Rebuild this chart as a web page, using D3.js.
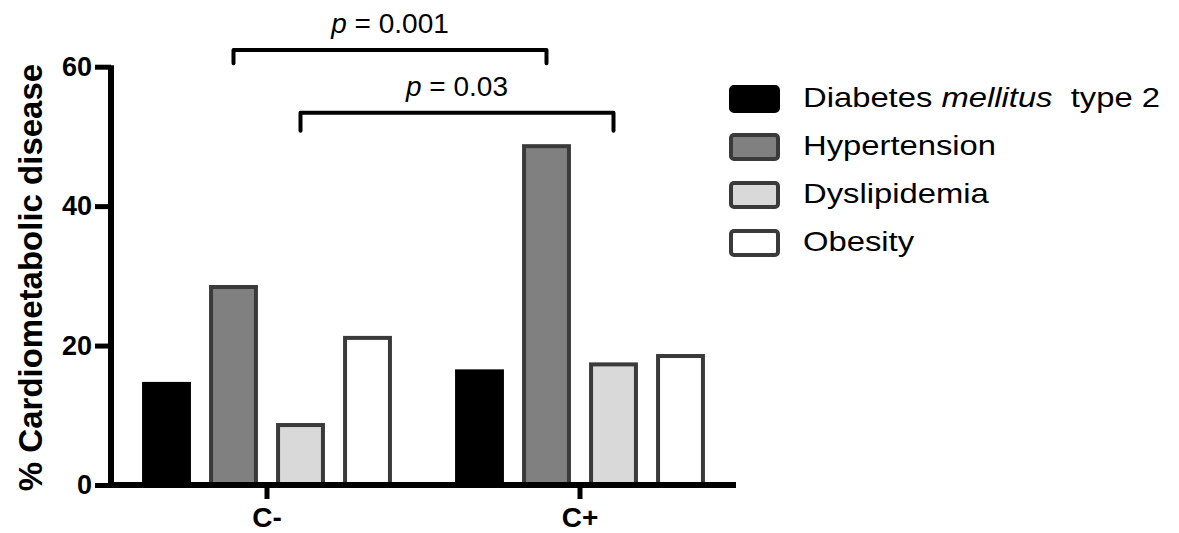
<!DOCTYPE html>
<meta charset="utf-8">
<script src="https://d3js.org/d3.v7.min.js"></script>
<style>
  body { margin: 0; background: #fff; }
  text { font-family: "Liberation Sans", Arial, Helvetica, sans-serif; }
</style>
<div id="my_dataviz"></div>
<script>

// data
var groups = ["C-", "C+"];
var series = ["Diabetes mellitus type 2", "Hypertension", "Dyslipidemia", "Obesity"];
var valuesCminus = [14.5, 28.4, 8.6, 21.1];
var valuesCplus = [16.3, 48.6, 17.3, 18.5];
var yTicks = [0, 20, 40, 60];
var fills = ["#000000", "#808080", "#d9d9d9", "#ffffff"];

// significance brackets: series compared across groups, height in % units
var brackets = [
  {series: "Hypertension", top: 62.4, bottom: 60.5, label: "0.001"},
  {series: "Dyslipidemia", top: 53.4, bottom: 50.8, label: "0.03"}
];

var data = [];
groups.forEach(function(g, gi) {
  var vals = gi == 0 ? valuesCminus : valuesCplus;
  series.forEach(function(s, si) {
    data.push({group: g, series: s, value: vals[si], fill: fills[si]});
  });
});

var width = 1179, height = 533;

var svg = d3.select("#my_dataviz")
  .append("svg")
    .attr("width", width)
    .attr("height", height);

var x = d3.scaleBand()
  .domain(groups)
  .range([110.5, 736.5]);

var xInner = d3.scaleBand()
  .domain(series)
  .range([-134, 134])
  .paddingInner(0.33)
  .paddingOuter(0.165);

var y = d3.scaleLinear()
  .domain([0, 60])
  .range([485, 66.7]);

function barCenter(g, s) {
  return x(g) + x.bandwidth() / 2 + xInner(s) + xInner.bandwidth() / 2;
}

// bars
svg.append("g")
  .selectAll("rect")
  .data(data)
  .enter()
  .append("rect")
    .attr("x", function(d) { return x(d.group) + x.bandwidth() / 2 + xInner(d.series); })
    .attr("y", function(d) { return y(d.value); })
    .attr("width", xInner.bandwidth())
    .attr("height", function(d) { return y(0) - y(d.value); })
    .attr("fill", function(d) { return d.fill; })
    .attr("stroke", function(d) { return d.fill == "#000000" ? "#000" : "#3a3a3a"; })
    .attr("stroke-width", 4);

// Y axis
var yAxis = svg.append("g")
  .attr("transform", "translate(111,0)")
  .call(d3.axisLeft(y).tickValues(yTicks).tickSize(16).tickSizeOuter(0).tickPadding(3));

yAxis.select(".domain")
  .attr("stroke", "#000")
  .attr("stroke-width", 6)
  .attr("d", "M0," + (y(0) + 3) + "V" + (y(60) - 1.5));
yAxis.selectAll(".tick line").attr("stroke-width", 5);
yAxis.selectAll(".tick text")
  .attr("font-size", 27)
  .attr("font-weight", "bold")
  .attr("fill", "#000")
  .attr("font-family", "Liberation Sans, Arial, sans-serif");

// X axis
var xAxis = svg.append("g")
  .attr("transform", "translate(0," + y(0) + ")")
  .call(d3.axisBottom(x).tickSize(14).tickSizeOuter(0).tickPadding(8));

xAxis.select(".domain")
  .attr("stroke", "#000")
  .attr("stroke-width", 6)
  .attr("d", "M108,0H736");
xAxis.selectAll(".tick line").attr("stroke-width", 5);
xAxis.selectAll(".tick text")
  .attr("font-size", 28)
  .attr("font-weight", "bold")
  .attr("fill", "#000")
  .attr("font-family", "Liberation Sans, Arial, sans-serif");

// Y axis title
svg.append("text")
  .attr("transform", "translate(42," + 277.5 + ") rotate(-90)")
  .attr("text-anchor", "middle")
  .attr("font-size", 33)
  .attr("font-weight", "bold")
  .text("% Cardiometabolic disease");

// brackets
brackets.forEach(function(b) {
  var x1 = barCenter(groups[0], b.series);
  var x2 = barCenter(groups[1], b.series);
  svg.append("path")
    .attr("d", "M" + x1 + "," + y(b.bottom) + "V" + y(b.top) + "H" + x2 + "V" + y(b.bottom))
    .attr("fill", "none")
    .attr("stroke", "#000")
    .attr("stroke-width", 4)
    .attr("stroke-linejoin", "round")
    .attr("stroke-linecap", "round");
  var t = svg.append("text")
    .attr("x", (x1 + x2) / 2)
    .attr("y", y(b.top) - 17)
    .attr("text-anchor", "middle")
    .attr("font-size", 28);
  t.append("tspan").attr("font-style", "italic").text("p");
  t.append("tspan").text(" = " + b.label);
});

// legend
var legend = svg.append("g")
  .attr("transform", "translate(731,99)");

var rows = legend.selectAll("g")
  .data(series)
  .enter()
  .append("g")
    .attr("transform", function(d, i) { return "translate(0," + (i * 48) + ")"; });

rows.append("rect")
  .attr("x", 0)
  .attr("y", -12)
  .attr("width", 47)
  .attr("height", 24)
  .attr("rx", 3)
  .attr("fill", function(d, i) { return fills[i]; })
  .attr("stroke", function(d, i) { return i == 0 ? "#000" : "#3a3a3a"; })
  .attr("stroke-width", 4);

rows.append("text")
  .attr("transform", "translate(72,8) scale(1.15,1)")
  .attr("font-size", 28.5)
  .style("white-space", "pre")
  .each(function(d) {
    var el = d3.select(this);
    if (d.indexOf("mellitus") >= 0) {
      el.append("tspan").text("Diabetes ");
      el.append("tspan").attr("font-style", "italic").text("mellitus");
      el.append("tspan").text("  type 2");
    } else {
      el.text(d);
    }
  });

</script>
